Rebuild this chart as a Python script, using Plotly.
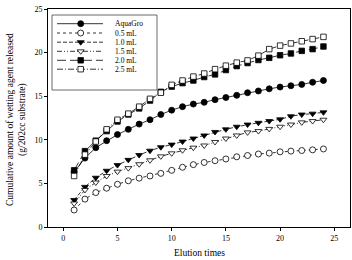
import plotly.graph_objects as go

elution = list(range(1, 25))
series_names = ["AquaGro", "0.5 mL", "1.0 mL", "1.5 mL", "2.0 mL", "2.5 mL"]
aquagro = [6.3, 7.9, 9.1, 9.9, 10.6, 11.2, 11.8, 12.3, 12.9, 13.4, 13.8, 14.1,
           14.3, 14.6, 14.85, 15.1, 15.4, 15.6, 15.85, 16.05, 16.2, 16.35, 16.6, 16.8]
ml05 = [1.95, 3.2, 3.95, 4.45, 4.9, 5.3, 5.6, 5.85, 6.15, 6.5, 6.85, 7.15,
        7.4, 7.6, 7.8, 8.05, 8.2, 8.37, 8.47, 8.62, 8.7, 8.77, 8.85, 8.95]
ml10 = [3.1, 4.6, 5.65, 6.45, 7.1, 7.7, 8.25, 8.75, 9.15, 9.45, 9.8, 10.15,
        10.5, 10.9, 11.2, 11.5, 11.75, 11.95, 12.15, 12.35, 12.7, 12.9, 13.0, 13.15]
ml15 = [2.7, 4.25, 5.1, 5.85, 6.35, 6.75, 7.2, 7.65, 8.1, 8.45, 8.8, 9.1,
        9.35, 9.75, 10.15, 10.5, 10.85, 11.0, 11.25, 11.5, 11.75, 12.0, 12.15, 12.3]
ml20 = [6.5, 8.7, 9.9, 11.0, 12.1, 12.9, 13.6, 14.5, 15.5, 16.1, 16.5, 16.8,
        17.2, 17.5, 18.0, 18.45, 18.8, 19.15, 19.4, 19.7, 19.9, 20.2, 20.4, 20.7]
ml25 = [5.85, 8.3, 9.8, 11.2, 12.3, 13.0, 13.8, 14.7, 15.4, 16.3, 16.8, 17.25,
        17.6, 18.1, 18.5, 18.85, 19.1, 19.65, 20.4, 20.8, 21.05, 21.3, 21.55, 21.8]
x_ticks = [0, 5, 10, 15, 20, 25]
y_ticks = [0, 5, 10, 15, 20, 25]

values = [aquagro, ml05, ml10, ml15, ml20, ml25]
symbols = ["circle", "circle", "triangle-down", "triangle-down", "square", "square"]
fills = ["black", "white", "black", "white", "black", "white"]
dashes = ["solid", "dot", "4px,2px", "5px,2px,1px,2px,1px,2px", "9px,4px", "6px,2px,1px,2px"]
sizes = [6, 6, 6, 6, 5.5, 5.5]

FONT = "Liberation Serif"
L, R, T, B = 48, 2, 9, 33
W, H = 352, 260
PW, PH = W - L - R, H - T - B


def px_x(px):
    return (px - L) / PW


def px_y(py):
    return (T + PH - py) / PH


fig = go.Figure()
for name, vals, sym, fc, ds, sz in zip(series_names, values, symbols, fills, dashes, sizes):
    fig.add_trace(go.Scatter(
        x=elution, y=vals, mode="lines+markers", name=name, showlegend=False,
        line=dict(color="black", width=0.8, dash=ds),
        marker=dict(symbol=sym, size=sz, color=fc, line=dict(color="black", width=0.8)),
    ))

# custom legend drawn on a pixel-scaled overlay axis
rows = [14.7, 24, 33.2, 42.3, 51.3, 60.2]
for name, sym, fc, ds, sz, ry in zip(series_names, symbols, fills, dashes, sizes, rows):
    fig.add_trace(go.Scatter(
        x=[9, 55], y=[ry, ry], mode="lines", xaxis="x2", yaxis="y2", showlegend=False,
        line=dict(color="black", width=0.8, dash=ds), hoverinfo="skip"))
    fig.add_trace(go.Scatter(
        x=[32.7], y=[ry], mode="markers", xaxis="x2", yaxis="y2", showlegend=False,
        marker=dict(symbol=sym, size=sz, color=fc, line=dict(color="black", width=0.8)),
        hoverinfo="skip"))
    fig.add_annotation(x=65, y=ry, xref="x2", yref="y2", text=name, showarrow=False,
                       xanchor="left", yanchor="middle",
                       font=dict(family=FONT, size=7.5, color="black"))

fig.add_shape(type="rect", xref="x2", yref="y2", x0=4, x1=109, y0=6, y1=81,
              line=dict(color="#444", width=0.8), fillcolor="rgba(0,0,0,0)")

fig.add_annotation(x=px_x(17), y=px_y(120), xref="paper", yref="paper",
                   text="Cumulative amount of wetting agent released<br>(g/202cc substrate)",
                   textangle=-90, showarrow=False, xanchor="center", yanchor="middle",
                   font=dict(family=FONT, size=9.5, color="black"))
fig.add_annotation(x=px_x(L + PW / 2), y=px_y(253), xref="paper", yref="paper",
                   text="Elution times", showarrow=False, xanchor="center", yanchor="middle",
                   font=dict(family=FONT, size=9.5, color="black"))

axis_common = dict(showgrid=False, zeroline=False, showline=True, linecolor="black",
                   linewidth=0.8, mirror=True, ticks="outside", ticklen=3, tickwidth=0.8,
                   tickcolor="black", tickfont=dict(family=FONT, size=8, color="black"))
fig.update_layout(
    width=W, height=H, margin=dict(l=L, r=R, t=T, b=B),
    paper_bgcolor="white", plot_bgcolor="white", showlegend=False,
    xaxis=dict(range=[-1.41, 26.45], tickvals=x_ticks, **axis_common),
    yaxis=dict(range=[0, 25], tickvals=y_ticks, **axis_common),
    xaxis2=dict(range=[0, PW], overlaying="x", anchor="y2", visible=False, fixedrange=True),
    yaxis2=dict(range=[PH, 0], overlaying="y", anchor="x2", visible=False, fixedrange=True),
)
fig.write_html("out.html")
